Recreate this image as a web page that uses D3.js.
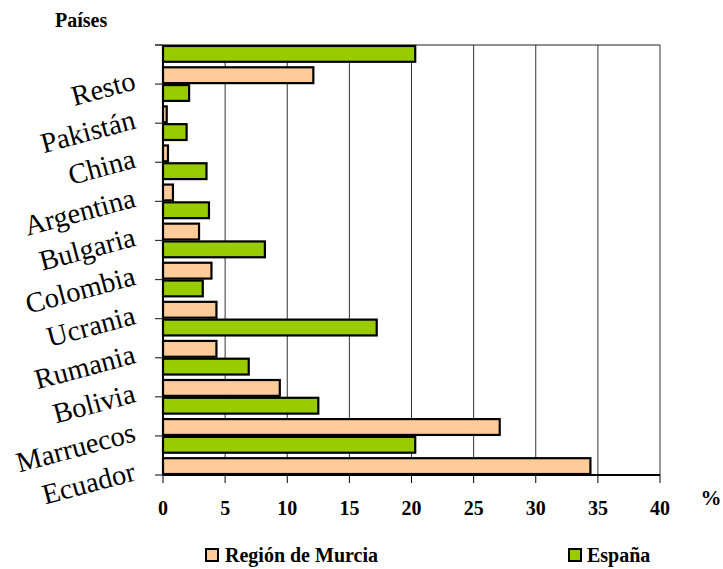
<!DOCTYPE html>
<html><head><meta charset="utf-8">
<script src="https://cdn.jsdelivr.net/npm/d3@7"></script>
<style>body{margin:0;background:#fff}</style>
</head><body>
<script>
const categories = ["Resto","Pakistán","China","Argentina","Bulgaria","Colombia","Ucrania","Rumania","Bolivia","Marruecos","Ecuador"];
const espana = [20.3, 2.1, 1.9, 3.5, 3.7, 8.2, 3.2, 17.2, 6.9, 12.5, 20.3];
const murcia = [12.1, 0.3, 0.4, 0.8, 2.9, 3.9, 4.3, 4.3, 9.4, 27.1, 34.4];
const xTicks = [0,5,10,15,20,25,30,35,40];
const seriesNames = ["Región de Murcia","España"];
const colors = ["#FFCC99","#99CC00"];
const FONT = "Liberation Serif";

const W=723,H=569;
const svg=d3.select("body").append("svg").attr("width",W).attr("height",H)
  .attr("font-family",FONT).style("font-family",FONT);
const L=163,R=660,T=45,B=475;
const x=d3.scaleLinear().domain([0,40]).range([L,R]);
const y=d3.scaleBand().domain(categories).range([T,B]).padding(0);
const bw=y.bandwidth();

// gridlines
svg.append("g").selectAll("line").data(xTicks.filter(d=>d>0)).join("line")
  .attr("x1",d=>x(d)).attr("x2",d=>x(d)).attr("y1",T).attr("y2",B)
  .attr("stroke","#333").attr("stroke-width",1);
svg.append("line").attr("x1",155).attr("x2",R).attr("y1",T).attr("y2",T).attr("stroke","#222").attr("stroke-width",1.2);

// bars
const data=categories.map((c,i)=>({c,e:espana[i],m:murcia[i]}));
const g=svg.append("g");
g.selectAll("rect.e").data(data).join("rect").attr("class","e")
  .attr("x",x(0)).attr("y",d=>y(d.c)+bw*0.025).attr("height",bw*0.405)
  .attr("width",d=>x(d.e)-x(0)).attr("fill",colors[1]).attr("stroke","#000").attr("stroke-width",2.2);
g.selectAll("rect.m").data(data).join("rect").attr("class","m")
  .attr("x",x(0)).attr("y",d=>y(d.c)+bw*0.57).attr("height",bw*0.405)
  .attr("width",d=>x(d.m)-x(0)).attr("fill",colors[0]).attr("stroke","#000").attr("stroke-width",2.2);

// axes
svg.append("line").attr("x1",L).attr("x2",L).attr("y1",T).attr("y2",B).attr("stroke","#000").attr("stroke-width",2);
const tickYs=[T].concat(categories.map(c=>y(c)+bw));
svg.append("g").selectAll("line").data(tickYs).join("line")
  .attr("x1",155).attr("x2",L).attr("y1",d=>d).attr("y2",d=>d).attr("stroke","#333").attr("stroke-width",1.2);
svg.append("line").attr("x1",L).attr("x2",R).attr("y1",B).attr("y2",B).attr("stroke","#000").attr("stroke-width",2);
svg.append("g").selectAll("line").data(xTicks).join("line")
  .attr("x1",d=>x(d)).attr("x2",d=>x(d)).attr("y1",B).attr("y2",B+8).attr("stroke","#000").attr("stroke-width",1);
svg.append("g").selectAll("text").data(xTicks).join("text")
  .attr("x",d=>x(d)).attr("y",515).attr("text-anchor","middle").attr("font-family",FONT)
  .attr("font-weight","bold").attr("font-size",20).text(d=>d);
svg.append("text").attr("x",711).attr("y",505).attr("text-anchor","middle").attr("font-family",FONT)
  .attr("font-weight","bold").attr("font-size",21).text("%");

// category labels
svg.append("g").selectAll("text").data(categories).join("text")
  .attr("transform",c=>`translate(137,${y(c)+bw+5}) rotate(-15)`)
  .attr("text-anchor","end").attr("font-family",FONT).attr("font-size",28.5).text(c=>c);

svg.append("text").attr("x",55).attr("y",27).attr("font-family",FONT).attr("font-weight","bold").attr("font-size",20).text("Países");

// legend
const leg=[{x:206,tx:225},{x:569,tx:587}];
seriesNames.forEach((n,i)=>{
  svg.append("rect").attr("x",leg[i].x).attr("y",549).attr("width",12).attr("height",12)
    .attr("fill",colors[i]).attr("stroke","#000").attr("stroke-width",2);
  svg.append("text").attr("x",leg[i].tx).attr("y",562).attr("font-family",FONT)
    .attr("font-weight","bold").attr("font-size",20).text(n);
});
</script>
</body></html>
